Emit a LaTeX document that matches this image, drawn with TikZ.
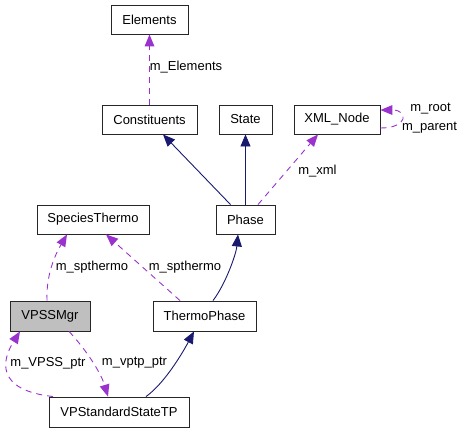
\documentclass[tikz,border=0pt]{standalone}
\usepackage{fontspec}
\setmainfont{Liberation Sans}
\usepackage{tikz}
\usetikzlibrary{arrows.meta}
\definecolor{navyedge}{RGB}{25,25,112}
\definecolor{memberedge}{RGB}{154,50,205}
\definecolor{focusfill}{RGB}{191,191,191}
\tikzset{
	every path/.style={line width=0.9pt},
	cls/.style={
		draw=black!85,
		rectangle,
		minimum height=29pt,
		inner sep=2pt,
		font=\fontsize{13pt}{15pt}\selectfont,
	},
	focus/.style={
		fill=focusfill,
	},
	inherit/.style={
		draw=navyedge,
		-{Triangle[length=12pt,width=10pt,fill=navyedge]},
	},
	member/.style={
		draw=memberedge,
		dash pattern=on 6pt off 5pt,
		-{Triangle[length=12pt,width=10pt,fill=memberedge,line width=0pt]},
	},
	lbl/.style={
		inner sep=0pt,
		font=\fontsize{13pt}{15pt}\selectfont,
	},
}

\begin{document}
\begin{tikzpicture}[x=1pt,y=-1pt]
	\useasboundingbox (0,0) rectangle (464,432);

	% classes
	\node[cls,minimum width=77pt]  (elem)   at (149.5,19.5) {Elements};
	\node[cls,minimum width=95pt]  (const)  at (149.5,119.5) {Constituents};
	\node[cls,minimum width=53pt]  (state)  at (245.5,119.5) {State};
	\node[cls,minimum width=86pt]  (xml)    at (337,119.5) {XML\_Node};
	\node[cls,minimum width=112pt] (spth)   at (93,219.5) {SpeciesThermo};
	\node[cls,minimum width=59pt]  (phase)  at (245.5,219.5) {Phase};
	\node[cls,focus,minimum width=80pt,minimum height=30pt]  (vpss)  at (50,316) {VPSSMgr};
	\node[cls,minimum width=103pt,minimum height=30pt] (thermo) at (204.5,316) {ThermoPhase};
	\node[cls,minimum width=140pt,minimum height=30pt] (vpst)   at (119,412) {VPStandardStateTP};

	% base classes
	\draw[inherit] ([xshift=-15pt]phase.north) -- ([xshift=13.5pt]const.south);
	\draw[inherit] (phase.north) -- (state.south);
	\draw[inherit] ([xshift=8.5pt]thermo.north) .. controls (225,285) and (236,255) .. ([xshift=-7.5pt]phase.south);
	\draw[inherit] ([xshift=27pt]vpst.north) .. controls (165,383) and (183,352) .. ([xshift=-10.5pt]thermo.south);

	% members
	\draw[member] (const.north) -- (elem.south);
	\draw[member] ([xshift=12.5pt]phase.north) -- ([xshift=-19pt]xml.south);
	\draw[member] ([yshift=-8.5pt]xml.east) .. controls +(28,0) and +(28,0) .. ([yshift=9.5pt]xml.east);
	\draw[member] ([xshift=-3pt]vpss.north) .. controls (46,275) and (55,255) .. ([xshift=-26pt]spth.south);
	\draw[member] ([xshift=-24.5pt]thermo.north) -- ([xshift=13pt]spth.south);
	\draw[member] ([xshift=-66pt]vpst.north) .. controls (-5,390) and (2,360) .. ([xshift=-30pt]vpss.south);
	\draw[member] ([xshift=19pt]vpss.south) .. controls (82,345) and (100,370) .. ([xshift=-11pt]vpst.north);

	% labels
	\node[lbl] (lelem)  at (186,67) {m\_Elements};
	\node[lbl] (lxml)   at (317.5,171) {m\_xml};
	\node[lbl] (lroot)  at (430.5,109) {m\_root};
	\node[lbl] (lpar)   at (429.5,128) {m\_parent};
	\node[lbl] (lspa)   at (92,267) {m\_spthermo};
	\node[lbl] (lspb)   at (185,267) {m\_spthermo};
	\node[lbl] (lvpss)  at (48,363) {m\_VPSS\_ptr};
	\node[lbl] (lvptp)  at (134.5,363) {m\_vptp\_ptr};
\end{tikzpicture}
\end{document}
